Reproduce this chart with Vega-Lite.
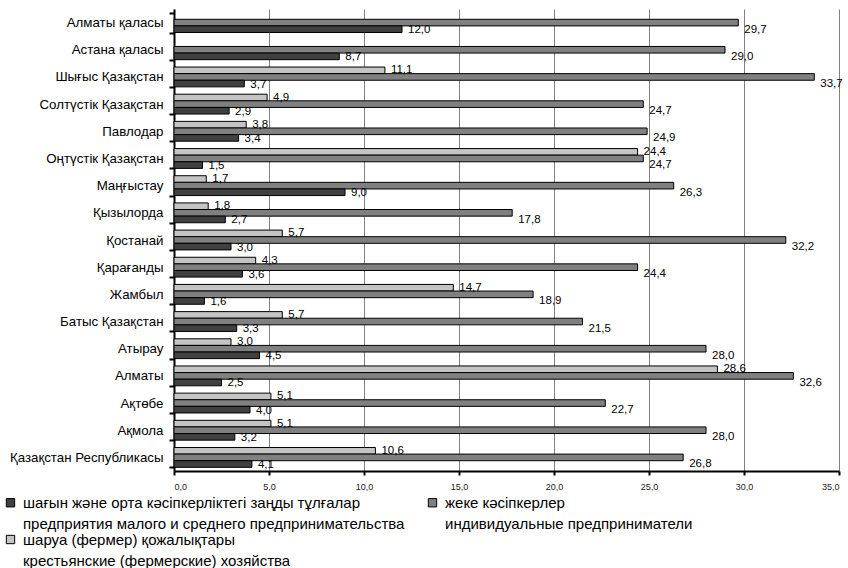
{
  "$schema": "https://vega.github.io/schema/vega-lite/v6.json",
  "width": 665,
  "height": 462,
  "autosize": {"type": "none"},
  "padding": {"left": 174, "top": 9, "right": 9, "bottom": 97},
  "background": "white",
  "config": {
    "view": {"stroke": null},
    "font": "Liberation Sans",
    "locale": {"number": {"decimal": ",", "thousands": " ", "grouping": [3], "currency": ["", ""]}}
  },
  "data": {
    "values": [
      {"region": "Алматы қаласы", "s": "B", "v": 29.7},
      {"region": "Алматы қаласы", "s": "A", "v": 12.0},
      {"region": "Астана қаласы", "s": "B", "v": 29.0},
      {"region": "Астана қаласы", "s": "A", "v": 8.7},
      {"region": "Шығыс Қазақстан", "s": "C", "v": 11.1},
      {"region": "Шығыс Қазақстан", "s": "B", "v": 33.7},
      {"region": "Шығыс Қазақстан", "s": "A", "v": 3.7},
      {"region": "Солтүстік Қазақстан", "s": "C", "v": 4.9},
      {"region": "Солтүстік Қазақстан", "s": "B", "v": 24.7},
      {"region": "Солтүстік Қазақстан", "s": "A", "v": 2.9},
      {"region": "Павлодар", "s": "C", "v": 3.8},
      {"region": "Павлодар", "s": "B", "v": 24.9},
      {"region": "Павлодар", "s": "A", "v": 3.4},
      {"region": "Оңтүстік Қазақстан", "s": "C", "v": 24.4},
      {"region": "Оңтүстік Қазақстан", "s": "B", "v": 24.7},
      {"region": "Оңтүстік Қазақстан", "s": "A", "v": 1.5},
      {"region": "Маңғыстау", "s": "C", "v": 1.7},
      {"region": "Маңғыстау", "s": "B", "v": 26.3},
      {"region": "Маңғыстау", "s": "A", "v": 9.0},
      {"region": "Қызылорда", "s": "C", "v": 1.8},
      {"region": "Қызылорда", "s": "B", "v": 17.8},
      {"region": "Қызылорда", "s": "A", "v": 2.7},
      {"region": "Қостанай", "s": "C", "v": 5.7},
      {"region": "Қостанай", "s": "B", "v": 32.2},
      {"region": "Қостанай", "s": "A", "v": 3.0},
      {"region": "Қарағанды", "s": "C", "v": 4.3},
      {"region": "Қарағанды", "s": "B", "v": 24.4},
      {"region": "Қарағанды", "s": "A", "v": 3.6},
      {"region": "Жамбыл", "s": "C", "v": 14.7},
      {"region": "Жамбыл", "s": "B", "v": 18.9},
      {"region": "Жамбыл", "s": "A", "v": 1.6},
      {"region": "Батыс Қазақстан", "s": "C", "v": 5.7},
      {"region": "Батыс Қазақстан", "s": "B", "v": 21.5},
      {"region": "Батыс Қазақстан", "s": "A", "v": 3.3},
      {"region": "Атырау", "s": "C", "v": 3.0},
      {"region": "Атырау", "s": "B", "v": 28.0},
      {"region": "Атырау", "s": "A", "v": 4.5},
      {"region": "Алматы", "s": "C", "v": 28.6},
      {"region": "Алматы", "s": "B", "v": 32.6},
      {"region": "Алматы", "s": "A", "v": 2.5},
      {"region": "Ақтөбе", "s": "C", "v": 5.1},
      {"region": "Ақтөбе", "s": "B", "v": 22.7},
      {"region": "Ақтөбе", "s": "A", "v": 4.0},
      {"region": "Ақмола", "s": "C", "v": 5.1},
      {"region": "Ақмола", "s": "B", "v": 28.0},
      {"region": "Ақмола", "s": "A", "v": 3.2},
      {"region": "Қазақстан Республикасы", "s": "C", "v": 10.6},
      {"region": "Қазақстан Республикасы", "s": "B", "v": 26.8},
      {"region": "Қазақстан Республикасы", "s": "A", "v": 4.1}
    ]
  },
  "encoding": {
    "y": {
      "field": "region",
      "type": "nominal",
      "sort": null,
      "scale": {"paddingInner": 0.27, "paddingOuter": 0.135},
      "axis": {
        "title": null,
        "labelFontSize": 13.3,
        "labelColor": "#000",
        "labelLimit": 0,
        "labelPadding": 6,
        "domainColor": "#000",
        "domainWidth": 2,
        "tickColor": "#000",
        "tickWidth": 2,
        "tickSize": 5,
        "tickBand": "extent",
        "grid": false
      }
    },
    "yOffset": {"field": "s", "type": "nominal", "scale": {"domain": ["C", "B", "A"]}},
    "x": {
      "field": "v",
      "type": "quantitative",
      "scale": {"domain": [0, 35], "nice": false},
      "axis": {
        "title": null,
        "values": [0, 5, 10, 15, 20, 25, 30, 35],
        "format": ".1f",
        "labelFontSize": 9,
        "labelColor": "#222",
        "labelPadding": 7,
        "domainColor": "#000",
        "domainWidth": 2,
        "tickColor": "#000",
        "tickWidth": 2,
        "tickSize": 4,
        "grid": true,
        "gridColor": "#808080",
        "gridWidth": 1
      }
    }
  },
  "layer": [
    {
      "mark": {"type": "bar", "stroke": "#000", "strokeWidth": 1},
      "encoding": {
        "color": {
          "field": "s",
          "type": "nominal",
          "scale": {"domain": ["A", "B", "C"], "range": ["#404040", "#808080", "#c4c4c4"]},
          "legend": {
            "title": null,
            "orient": "none",
            "direction": "horizontal",
            "legendX": -171,
            "legendY": 486,
            "columns": 2,
            "columnPadding": 20,
            "rowPadding": 0,
            "symbolType": "square",
            "symbolSize": 70,
            "symbolStrokeColor": "#000",
            "symbolStrokeWidth": 1,
            "labelFont": "Liberation Sans",
            "labelFontSize": 15,
            "labelColor": "#000",
            "labelLimit": 0,
            "labelOffset": 5,
            "labelExpr": "datum.label == 'A' ? ['шағын және орта кәсіпкерліктегі заңды тұлғалар', 'предприятия малого и среднего предпринимательства'] : datum.label == 'B' ? ['жеке кәсіпкерлер', 'индивидуальные предприниматели'] : ['шаруа (фермер) қожалықтары', 'крестьянские (фермерские) хозяйства']",
            "encode": {"labels": {"update": {"lineHeight": {"value": 21}}}}
          }
        }
      }
    },
    {
      "transform": [{"filter": "datum.s == 'C'"}],
      "mark": {"type": "text", "align": "left", "baseline": "middle", "dx": 6, "dy": 0, "fontSize": 11.5, "color": "#000"},
      "encoding": {"text": {"field": "v", "type": "quantitative", "format": ".1f"}}
    },
    {
      "transform": [{"filter": "datum.s == 'B'"}],
      "mark": {"type": "text", "align": "left", "baseline": "middle", "dx": 6, "dy": 7, "fontSize": 11.5, "color": "#000"},
      "encoding": {"text": {"field": "v", "type": "quantitative", "format": ".1f"}}
    },
    {
      "transform": [{"filter": "datum.s == 'A'"}],
      "mark": {"type": "text", "align": "left", "baseline": "middle", "dx": 6, "dy": 1, "fontSize": 11.5, "color": "#000"},
      "encoding": {"text": {"field": "v", "type": "quantitative", "format": ".1f"}}
    }
  ]
}
